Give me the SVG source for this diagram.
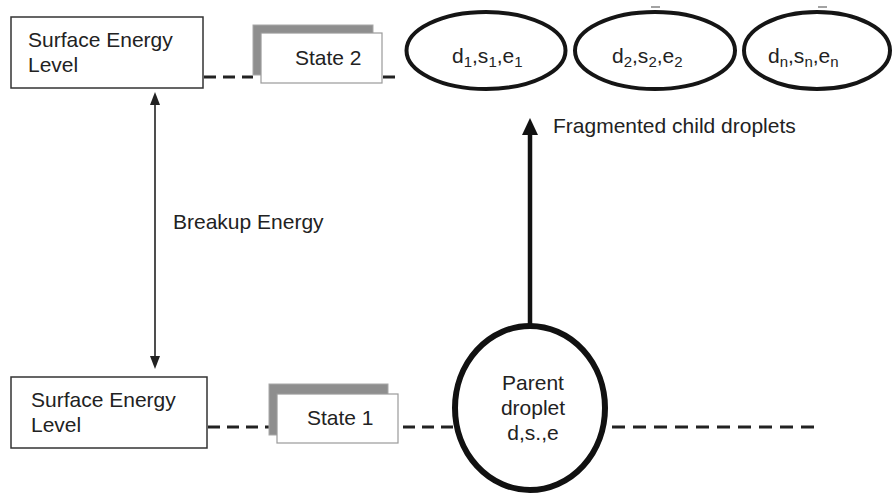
<svg xmlns="http://www.w3.org/2000/svg" width="894" height="494" viewBox="0 0 894 494">
<style>
text{font-family:"Liberation Sans",Arial,Helvetica,sans-serif;font-size:21px;fill:#222}
.box{fill:#fff;stroke:#333;stroke-width:1.5}
.shadow{fill:#8e8e8e;stroke:#a8a8a8;stroke-width:1}
.state{fill:#fff;stroke:#9a9a9a;stroke-width:1.2}
.drop{fill:#fff;stroke:#151515;stroke-width:4}
.dash{stroke:#222;stroke-width:3;stroke-dasharray:12 7;fill:none}
.thin{stroke:#222;stroke-width:1.6;fill:none}
.head{fill:#222}
.sub{font-size:15px}
</style>

<g id="connectors">
<line class="dash" x1="204" y1="77" x2="253" y2="77"/>
<line class="dash" x1="383" y1="77" x2="396" y2="77"/>
<line class="dash" x1="208" y1="427" x2="269" y2="427"/>
<line class="dash" x1="403" y1="427" x2="453" y2="427"/>
<line class="dash" x1="612" y1="427" x2="815" y2="427" style="stroke-dasharray:13 8"/>
<line class="thin" x1="155" y1="103" x2="155" y2="358"/>
<polygon class="head" points="155,92 150,105 160,105"/>
<polygon class="head" points="155,369 150,356 160,356"/>
<line x1="530" y1="325" x2="530" y2="132" stroke="#111" stroke-width="4.5"/>
<polygon points="530,118 522,135 538,135" fill="#111"/>
</g>

<g id="surface-top">
<rect class="box" x="11" y="17" width="192" height="71"/>
<text x="28" y="47">Surface Energy</text>
<text x="28" y="72">Level</text>
</g>

<g id="surface-bottom">
<rect class="box" x="11" y="377" width="196" height="71"/>
<text x="31" y="407">Surface Energy</text>
<text x="31" y="432">Level</text>
</g>

<g id="state2">
<rect class="shadow" x="253" y="25" width="120" height="50"/>
<rect class="state" x="261" y="33" width="121" height="50"/>
<text x="295" y="65">State 2</text>
</g>

<g id="state1">
<rect class="shadow" x="269" y="384" width="119" height="51"/>
<rect class="state" x="277" y="394" width="121" height="49"/>
<text x="307" y="425">State 1</text>
</g>

<g id="child1">
<ellipse class="drop" cx="486" cy="50.5" rx="79.5" ry="38.5"/>
<text x="452" y="63">d<tspan class="sub" dy="4">1</tspan><tspan dy="-4">,s</tspan><tspan class="sub" dy="4">1</tspan><tspan dy="-4">,e</tspan><tspan class="sub" dy="4">1</tspan></text>
</g>

<g id="child2">
<ellipse class="drop" cx="655" cy="50.5" rx="80" ry="38.5"/>
<text x="612" y="63">d<tspan class="sub" dy="4">2</tspan><tspan dy="-4">,s</tspan><tspan class="sub" dy="4">2</tspan><tspan dy="-4">,e</tspan><tspan class="sub" dy="4">2</tspan></text>
</g>

<g id="childn">
<ellipse class="drop" cx="817" cy="50.5" rx="73" ry="38.5"/>
<text x="768" y="63">d<tspan class="sub" dy="4">n</tspan><tspan dy="-4">,s</tspan><tspan class="sub" dy="4">n</tspan><tspan dy="-4">,e</tspan><tspan class="sub" dy="4">n</tspan></text>
</g>

<g id="marks">
<line x1="651" y1="7" x2="660" y2="7" stroke="#666" stroke-width="1.2"/>
<line x1="818" y1="7" x2="827" y2="7" stroke="#666" stroke-width="1.2"/>
</g>

<g id="parent">
<ellipse cx="530" cy="408" rx="75" ry="82" fill="#fff" stroke="#111" stroke-width="6"/>
<text x="533" y="390" text-anchor="middle">Parent</text>
<text x="533" y="415" text-anchor="middle">droplet</text>
<text x="533" y="440" text-anchor="middle">d,s.,e</text>
</g>

<g id="labels">
<text x="173" y="229">Breakup Energy</text>
<text x="553" y="133">Fragmented child droplets</text>
</g>
</svg>
